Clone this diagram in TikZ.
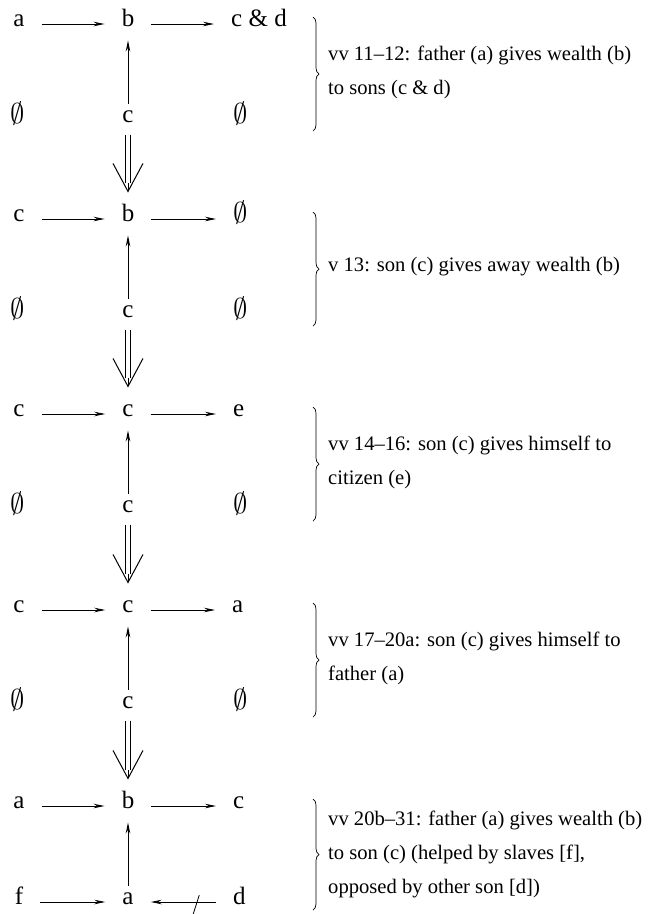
\documentclass[tikz,border=0pt]{standalone}
\usepackage{fontspec}
\setmainfont{Liberation Serif}
\usetikzlibrary{arrows.meta,calc,decorations.pathreplacing}
\def\yields(#1)(#2){\draw[barb] (#1) -- (#2); \draw[dbl] (#1) -- (#2);}
\def\nul{\raisebox{-0.08ex}{\scalebox{1.15}{$\emptyset$}}}

\begin{document}
\begin{tikzpicture}[x=1pt, y=-1pt,
	lbl/.style={inner sep=0pt, text height=1ex, text depth=0pt, font=\fontsize{25}{28}\selectfont},
	rlbl/.style={lbl, anchor=west},
	note/.style={anchor=west, align=left, inner sep=0pt, font=\fontsize{20.6}{34}\selectfont},
	arr/.style={-{Stealth[length=11pt, width=4.5pt]}, line width=0.9pt, shorten <=17pt, shorten >=17pt},
	up/.style={-{Stealth[length=11pt, width=4.5pt]}, line width=0.9pt, shorten <=14pt, shorten >=14pt},
	barb/.style={-{Straight Barb[length=28pt, width=30pt]}, line width=1pt, shorten <=12pt, shorten >=24pt},
	dbl/.style={double, double distance=3.5pt, line width=0.9pt, shorten <=12pt, shorten >=34pt},
	brc/.style={decorate, decoration={brace, amplitude=6pt}, line width=0.7pt}]
		%%%%% START %%%%%
		\useasboundingbox (0,0) rectangle (661,914);
		
		% vv 11-12
		\node[lbl] (tl1) at (19,24) {a};
		\node[lbl] (tm1) at (128,24) {b};
		\node[rlbl] (tr1) at (231,24) {c \& d};
		\node[lbl] (bl1) at (18,120) {\nul};
		\node[lbl] (bm1) at (128,120) {c};
		\node[rlbl] (br1) at (233,120) {\nul};
		\draw[arr] (tl1) -- (tm1);
		\draw[arr] (tm1) -- (tr1);
		\draw[up] (bm1) -- (tm1);
		\draw[brc] (313,17) -- (313,131);
		\node[note] (txt1) at (328,72) {vv 11--12: father (a) gives wealth (b)\\to sons (c \& d)};
		
		% v 13
		\node[lbl] (tl2) at (19,219) {c};
		\node[lbl] (tm2) at (128,219) {b};
		\node[rlbl] (tr2) at (233,219) {\nul};
		\node[lbl] (bl2) at (18,315) {\nul};
		\node[lbl] (bm2) at (128,315) {c};
		\node[rlbl] (br2) at (233,315) {\nul};
		\draw[arr] (tl2) -- (tm2);
		\draw[arr] (tm2) -- (tr2);
		\draw[up] (bm2) -- (tm2);
		\draw[brc] (313,212) -- (313,326);
		\node[note] (txt2) at (328,267) {v 13: son (c) gives away wealth (b)};
		
		% vv 14-16
		\node[lbl] (tl3) at (19,414) {c};
		\node[lbl] (tm3) at (128,414) {c};
		\node[rlbl] (tr3) at (233,414) {e};
		\node[lbl] (bl3) at (18,510) {\nul};
		\node[lbl] (bm3) at (128,510) {c};
		\node[rlbl] (br3) at (233,510) {\nul};
		\draw[arr] (tl3) -- (tm3);
		\draw[arr] (tm3) -- (tr3);
		\draw[up] (bm3) -- (tm3);
		\draw[brc] (313,407) -- (313,521);
		\node[note] (txt3) at (328,462) {vv 14--16: son (c) gives himself to\\citizen (e)};
		
		% vv 17-20a
		\node[lbl] (tl4) at (19,610) {c};
		\node[lbl] (tm4) at (128,610) {c};
		\node[rlbl] (tr4) at (232,610) {a};
		\node[lbl] (bl4) at (18,706) {\nul};
		\node[lbl] (bm4) at (128,706) {c};
		\node[rlbl] (br4) at (233,706) {\nul};
		\draw[arr] (tl4) -- (tm4);
		\draw[arr] (tm4) -- (tr4);
		\draw[up] (bm4) -- (tm4);
		\draw[brc] (313,603) -- (313,717);
		\node[note] (txt4) at (328,658) {vv 17--20a: son (c) gives himself to\\father (a)};
		
		% vv 20b-31
		\node[lbl] (tl5) at (19,806) {a};
		\node[lbl] (tm5) at (128,806) {b};
		\node[rlbl] (tr5) at (233,806) {c};
		\node[lbl] (bl5) at (19,902) {f};
		\node[lbl] (bm5) at (128,902) {a};
		\node[rlbl] (br5) at (233,902) {d};
		\draw[arr] (tl5) -- (tm5);
		\draw[arr] (tm5) -- (tr5);
		\draw[up] (bm5) -- (tm5);
		\draw[arr] (bl5) -- (bm5);
		\draw[arr] (br5) -- coordinate[pos=0.36] (cut) (bm5);
		\draw[line width=0.8pt] ($(cut)+(-5,15)$) -- ($(cut)+(2,-7)$);
		\draw[brc] (313,799) -- (313,910);
		\node[note] (txt5) at (328,854) {vv 20b--31: father (a) gives wealth (b)\\to son (c) (helped by slaves [f],\\opposed by other son [d])};
		
		\yields(bm1)(tm2)
		\yields(bm2)(tm3)
		\yields(bm3)(tm4)
		\yields(bm4)(tm5)
		%%%%% END %%%%%
\end{tikzpicture}
\end{document}
